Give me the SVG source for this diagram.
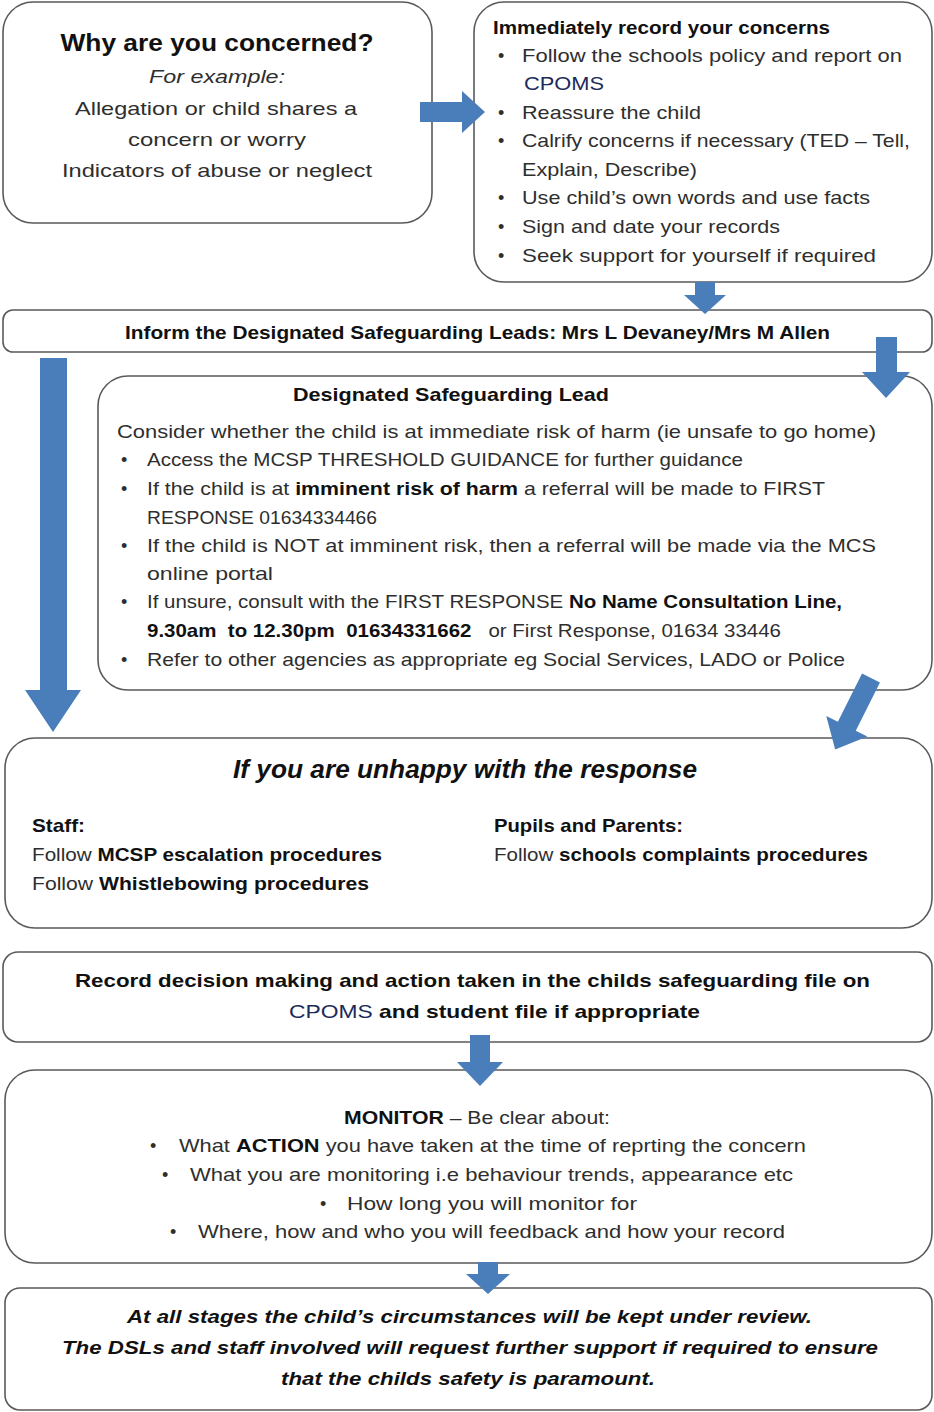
<svg xmlns="http://www.w3.org/2000/svg" width="934" height="1412" viewBox="0 0 934 1412">
<style>
.box{fill:#fff;stroke:#5a5a5a;stroke-width:1.6}
.arrow{fill:#4a7ebb}
text{font-family:"Liberation Sans",Arial,sans-serif;fill:#2e2e2e;font-size:18px}
.b{font-weight:bold;fill:#111}
.i{font-style:italic}
.c{text-anchor:middle}
.navy{fill:#1c2a5a}
.s19{font-size:19px}
.s23{font-size:23px}
.s25{font-size:25px}
</style>
<rect width="934" height="1412" fill="#fff"/>

<g id="node-why">
<rect class="box" x="3" y="2" width="429" height="221" rx="30"/>
<text class="b c s23" x="217" y="51" textLength="313" lengthAdjust="spacingAndGlyphs">Why are you concerned?</text>
<text class="i c s19" x="217" y="83" textLength="136" lengthAdjust="spacingAndGlyphs">For example:</text>
<text class="c s19" x="216" y="115" textLength="282" lengthAdjust="spacingAndGlyphs">Allegation or child shares a</text>
<text class="c s19" x="217" y="146" textLength="178" lengthAdjust="spacingAndGlyphs">concern or worry</text>
<text class="c s19" x="217" y="177" textLength="310" lengthAdjust="spacingAndGlyphs">Indicators of abuse or neglect</text>
</g>

<g id="node-record-concerns">
<rect class="box" x="474" y="2" width="458" height="280" rx="30"/>
<text class="b" x="493" y="34" textLength="337" lengthAdjust="spacingAndGlyphs">Immediately record your concerns</text>
<text x="498" y="62">•</text>
<text class="s19" x="522" y="62" textLength="380" lengthAdjust="spacingAndGlyphs">Follow the schools policy and report on</text>
<text class="navy s19" x="524" y="90" textLength="80" lengthAdjust="spacingAndGlyphs">CPOMS</text>
<text x="498" y="119">•</text>
<text class="s19" x="522" y="119" textLength="179" lengthAdjust="spacingAndGlyphs">Reassure the child</text>
<text x="498" y="147">•</text>
<text class="s19" x="522" y="147" textLength="388" lengthAdjust="spacingAndGlyphs">Calrify concerns if necessary (TED – Tell,</text>
<text class="s19" x="522" y="176" textLength="175" lengthAdjust="spacingAndGlyphs">Explain, Describe)</text>
<text x="498" y="204">•</text>
<text class="s19" x="522" y="204" textLength="348" lengthAdjust="spacingAndGlyphs">Use child’s own words and use facts</text>
<text x="498" y="233">•</text>
<text class="s19" x="522" y="233" textLength="258" lengthAdjust="spacingAndGlyphs">Sign and date your records</text>
<text x="498" y="262">•</text>
<text class="s19" x="522" y="262" textLength="354" lengthAdjust="spacingAndGlyphs">Seek support for yourself if required</text>
</g>

<g id="node-inform">
<rect class="box" x="3" y="310" width="929" height="42" rx="10"/>
<text class="b s19" x="125" y="339" textLength="705" lengthAdjust="spacingAndGlyphs">Inform the Designated Safeguarding Leads: Mrs L Devaney/Mrs M Allen</text>
</g>

<g id="node-dsl">
<rect class="box" x="98" y="376" width="834" height="314" rx="30"/>
<text class="b s19" x="293" y="401" textLength="316" lengthAdjust="spacingAndGlyphs">Designated  Safeguarding Lead</text>
<text class="s19" x="117" y="438" textLength="759" lengthAdjust="spacingAndGlyphs">Consider whether the child is at immediate risk of harm (ie unsafe to go home)</text>
<text x="121" y="466">•</text>
<text class="s19" x="147" y="466" textLength="596" lengthAdjust="spacingAndGlyphs">Access the MCSP THRESHOLD GUIDANCE for further guidance</text>
<text x="121" y="495">•</text>
<text class="s19" x="147" y="495" textLength="678" lengthAdjust="spacingAndGlyphs">If the child is at <tspan class="b">imminent risk of harm</tspan> a referral will be made to FIRST</text>
<text class="s19" x="147" y="524" textLength="230" lengthAdjust="spacingAndGlyphs">RESPONSE 01634334466</text>
<text x="121" y="552">•</text>
<text class="s19" x="147" y="552" textLength="729" lengthAdjust="spacingAndGlyphs">If the child is NOT at imminent risk, then a referral will be made via the MCS</text>
<text class="s19" x="147" y="580" textLength="126" lengthAdjust="spacingAndGlyphs">online portal</text>
<text x="121" y="608">•</text>
<text class="s19" x="147" y="608" textLength="695" lengthAdjust="spacingAndGlyphs">If unsure, consult with the FIRST RESPONSE <tspan class="b">No Name Consultation Line,</tspan></text>
<text class="s19" x="147" y="637" textLength="634" lengthAdjust="spacingAndGlyphs" xml:space="preserve"><tspan class="b">9.30am  to 12.30pm  01634331662</tspan>   or First Response, 01634 33446</text>
<text x="121" y="666">•</text>
<text class="s19" x="147" y="666" textLength="698" lengthAdjust="spacingAndGlyphs">Refer to other agencies as appropriate eg Social Services, LADO or Police</text>
</g>

<g id="node-unhappy">
<rect class="box" x="5" y="738" width="927" height="190" rx="30"/>
<text class="b i s25" x="233" y="778" textLength="464" lengthAdjust="spacingAndGlyphs">If you are unhappy with the response</text>
<text class="b s19" x="32" y="832" textLength="53" lengthAdjust="spacingAndGlyphs">Staff:</text>
<text class="s19" x="32" y="861" textLength="350" lengthAdjust="spacingAndGlyphs">Follow <tspan class="b">MCSP escalation procedures</tspan></text>
<text class="s19" x="32" y="890" textLength="337" lengthAdjust="spacingAndGlyphs">Follow <tspan class="b">Whistlebowing procedures</tspan></text>
<text class="b s19" x="494" y="832" textLength="189" lengthAdjust="spacingAndGlyphs">Pupils and Parents:</text>
<text class="s19" x="494" y="861" textLength="374" lengthAdjust="spacingAndGlyphs">Follow <tspan class="b">schools complaints procedures</tspan></text>
</g>

<g id="node-record-decision">
<rect class="box" x="3" y="952" width="929" height="90" rx="15"/>
<text class="b s19" x="75" y="987" textLength="795" lengthAdjust="spacingAndGlyphs">Record decision making and action taken in the childs safeguarding file on</text>
<text class="s19" x="289" y="1018" textLength="411" lengthAdjust="spacingAndGlyphs"><tspan class="navy">CPOMS</tspan><tspan class="b"> and student file if appropriate</tspan></text>
</g>

<g id="node-monitor">
<rect class="box" x="5" y="1070" width="927" height="193" rx="30"/>
<text class="s19" x="344" y="1124" textLength="266" lengthAdjust="spacingAndGlyphs"><tspan class="b">MONITOR</tspan> – Be clear about:</text>
<text x="150" y="1152">•</text>
<text class="s19" x="179" y="1152" textLength="627" lengthAdjust="spacingAndGlyphs">What <tspan class="b">ACTION</tspan> you have taken at the time of reprting the concern</text>
<text x="162" y="1181">•</text>
<text class="s19" x="190" y="1181" textLength="603" lengthAdjust="spacingAndGlyphs">What you are monitoring i.e behaviour trends, appearance etc</text>
<text x="320" y="1210">•</text>
<text class="s19" x="347" y="1210" textLength="290" lengthAdjust="spacingAndGlyphs">How long you will monitor for</text>
<text x="170" y="1238">•</text>
<text class="s19" x="198" y="1238" textLength="587" lengthAdjust="spacingAndGlyphs">Where, how and who you will feedback and how your record</text>
</g>

<g id="node-review">
<rect class="box" x="5" y="1288" width="927" height="122" rx="15"/>
<text class="b i s19" x="127" y="1323" textLength="685" lengthAdjust="spacingAndGlyphs">At all stages the child’s circumstances will be kept under  review.</text>
<text class="b i s19" x="62" y="1354" textLength="816" lengthAdjust="spacingAndGlyphs">The DSLs and  staff involved will request further support  if required to ensure</text>
<text class="b i s19" x="281" y="1385" textLength="374" lengthAdjust="spacingAndGlyphs">that the childs safety is paramount.</text>
</g>

<g id="connectors">
<polygon class="arrow" points="420,102 462,102 462,91 485,112 462,133 462,122 420,122"/>
<polygon class="arrow" points="695,282 715,282 715,295 726,295 705,314 684,295 695,295"/>
<polygon class="arrow" points="876,337 897,337 897,372 910,372 886,398 862,372 876,372"/>
<polygon class="arrow" points="40,358 67,358 67,690 81,690 53,732 25,690 40,690"/>
<polygon class="arrow" transform="translate(871,678) rotate(26.6)" points="-10,0 10,0 10,54 23,54 0,80 -23,54 -10,54"/>
<polygon class="arrow" points="470,1035 490,1035 490,1062 503,1062 480,1086 457,1062 470,1062"/>
<polygon class="arrow" points="478,1262 498,1262 498,1274 510,1274 488,1294 466,1274 478,1274"/>
</g>
</svg>
